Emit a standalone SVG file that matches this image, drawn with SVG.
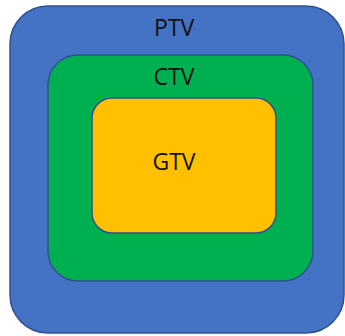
<svg xmlns="http://www.w3.org/2000/svg" width="345" height="336" viewBox="0 0 345 336">
<style>
.box{stroke:#2F528F;stroke-width:1.5}
.lbl{font-family:"Open Sans","Liberation Sans",sans-serif;font-size:23px;fill:#111;text-anchor:middle}
</style>
<rect width="345" height="336" fill="#fff"/>
<g id="PTV">
<rect class="box" x="10" y="6" width="334" height="327" rx="38" ry="38" fill="#4472C4"/>
<text class="lbl" x="174" y="36">PTV</text>
</g>
<g id="CTV">
<rect class="box" x="48" y="55" width="265" height="226" rx="30" ry="30" fill="#00B050"/>
<text class="lbl" x="174" y="85">CTV</text>
</g>
<g id="GTV">
<rect class="box" x="92" y="98" width="184" height="135" rx="20" ry="20" fill="#FFC000"/>
<text class="lbl" x="174" y="170">GTV</text>
</g>
<g id="connectors"/>
</svg>
